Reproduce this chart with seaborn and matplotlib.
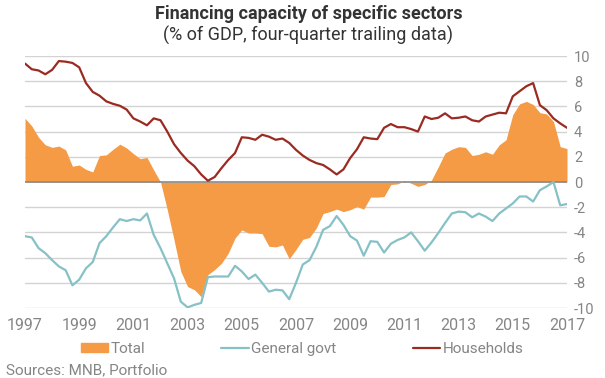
import numpy as np
import pandas as pd
import seaborn as sns
import matplotlib.pyplot as plt
from matplotlib.patches import Patch
from matplotlib.lines import Line2D

# quarterly data, 1997Q1 - 2017Q1, % of GDP
quarters = pd.period_range('1997Q1', '2017Q1', freq='Q')

total = [5.05, 4.45, 3.55, 2.95, 2.75, 2.85, 2.55, 1.25, 1.35, 1.0,
         0.8, 2.1, 2.15, 2.6, 3.0, 2.7, 2.25, 1.85, 1.95, 0.95,
         0.0, -2.2, -4.6, -7.1, -8.3, -8.55, -9.1, -7.35, -6.95, -6.45,
         -5.65, -4.45, -3.8, -4.05, -4.05, -4.1, -5.1, -5.15, -5.0, -6.1,
         -5.35, -4.55, -4.4, -3.65, -2.5, -2.35, -2.15, -2.35, -2.2, -1.95,
         -2.15, -1.2, -1.2, -1.15, -0.2, -0.15, 0.1, -0.1, -0.35, -0.2,
         0.15, 1.2, 2.3, 2.6, 2.8, 2.75, 2.1, 2.2, 2.4, 2.2,
         2.95, 3.35, 5.35, 6.2, 6.4, 6.15, 5.5, 5.4, 4.8, 2.8,
         2.65]

general_govt = [-4.3, -4.4, -5.25, -5.65, -6.2, -6.7, -7.0, -8.2, -7.75, -6.85,
                -6.35, -4.85, -4.3, -3.6, -2.95, -3.1, -2.95, -3.05, -2.5, -4.2,
                -5.25, -6.45, -7.65, -9.5, -9.95, -9.75, -9.6, -7.55, -7.5, -7.5,
                -7.5, -6.65, -7.1, -7.7, -7.35, -8.0, -8.7, -8.55, -8.6, -9.3,
                -8.0, -6.55, -6.2, -5.15, -3.8, -3.5, -2.7, -3.4, -4.3, -4.65,
                -5.85, -4.7, -4.75, -5.6, -4.9, -4.6, -4.4, -4.0, -4.7, -5.45,
                -4.8, -4.05, -3.25, -2.5, -2.35, -2.4, -2.8, -2.5, -2.75, -3.1,
                -2.5, -2.1, -1.7, -1.15, -1.15, -1.55, -0.65, -0.35, 0.0, -1.85,
                -1.75]

households = [9.4, 8.95, 8.85, 8.55, 8.9, 9.6, 9.55, 9.45, 9.1, 7.85,
              7.15, 6.85, 6.4, 6.2, 6.05, 5.75, 5.05, 4.8, 4.5, 5.05,
              4.9, 4.0, 3.0, 2.3, 1.7, 1.25, 0.6, 0.1, 0.4, 1.1,
              1.75, 2.3, 3.55, 3.5, 3.35, 3.75, 3.6, 3.35, 3.45, 3.1,
              2.55, 2.1, 1.75, 1.5, 1.35, 1.0, 0.6, 1.0, 1.9, 2.6,
              3.55, 3.45, 3.4, 4.3, 4.6, 4.35, 4.35, 4.2, 4.0, 5.2,
              5.0, 5.1, 5.45, 5.05, 5.1, 5.2, 4.9, 4.8, 5.2, 5.35,
              5.5, 5.45, 6.8, 7.2, 7.6, 7.85, 6.1, 5.7, 5.05, 4.65,
              4.3]

year_ticks = list(range(1997, 2018, 2))
y_ticks = list(range(-10, 11, 2))

df = pd.DataFrame({
    'date': quarters.year + (quarters.quarter - 1) / 4,
    'Total': total,
    'General govt': general_govt,
    'Households': households,
})

ORANGE = '#F59A45'
TEAL = '#86C1C6'
DARKRED = '#9A2B22'
GREY = '#858585'

sns.set_theme(style='white')
plt.rcParams['font.family'] = ['Roboto', 'DejaVu Sans']
plt.rcParams['axes.unicode_minus'] = False

fig = plt.figure(figsize=(6.05, 3.78), dpi=100)
ax = fig.add_axes([25 / 605, 1 - 308 / 378, 542 / 605, 252 / 378])

for y in y_ticks:
    if y != 0:
        ax.axhline(y, color='#D3D3D3', lw=1.0, zorder=0)

ax.fill_between(df['date'], df['Total'], 0, color=ORANGE, lw=0, zorder=1)
ax.axhline(0, color='#8A8A8A', lw=1.2, zorder=2)
sns.lineplot(data=df, x='date', y='General govt', color=TEAL, lw=1.6, ax=ax, zorder=3)
sns.lineplot(data=df, x='date', y='Households', color=DARKRED, lw=1.6, ax=ax, zorder=3)

ax.set_xlim(1997, 2017)
ax.set_ylim(-10, 10)
ax.set_xticks(year_ticks)
ax.set_xticklabels([str(y) for y in year_ticks], fontsize=11.5, color=GREY)
ax.yaxis.tick_right()
ax.set_yticks(y_ticks)
ax.set_yticklabels([str(y) for y in y_ticks], fontsize=10.5, color=GREY)
ax.tick_params(axis='both', length=0)
ax.tick_params(axis='x', pad=7)
ax.tick_params(axis='y', pad=5)
ax.set_xlabel('')
ax.set_ylabel('')
sns.despine(ax=ax, left=True, bottom=True, right=True, top=True)

fig.text(309 / 605, 1 - 14 / 378, 'Financing capacity of specific sectors',
         ha='center', va='center', fontsize=13, fontweight='bold', color='#333333')
fig.text(308 / 605, 1 - 35 / 378, '(% of GDP, four-quarter trailing data)',
         ha='center', va='center', fontsize=13, color='#333333')

handles = [Patch(color=ORANGE), Line2D([], [], color=TEAL, lw=1.6),
           Line2D([], [], color=DARKRED, lw=1.6)]
fig.legend(handles, ['Total', 'General govt', 'Households'], loc='center',
           bbox_to_anchor=(302 / 605, 1 - 349 / 378), ncol=3, frameon=False,
           fontsize=11, labelcolor=GREY, handlelength=1.8, handleheight=0.6,
           handletextpad=0.15, columnspacing=5.0)

fig.text(6 / 605, 1 - 370 / 378, 'Sources: MNB, Portfolio', ha='left', va='center',
         fontsize=11, color=GREY)

fig.savefig('out.png', dpi=100)
